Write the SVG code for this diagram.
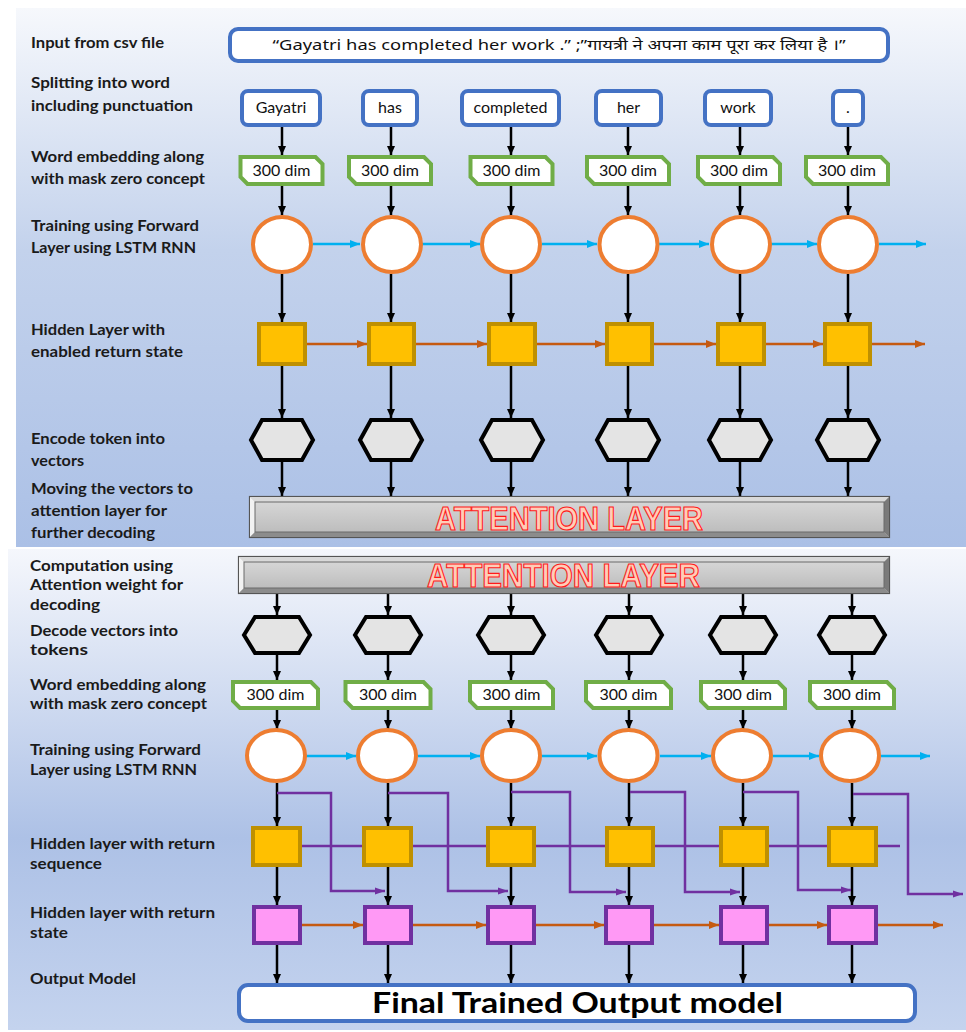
<svg xmlns="http://www.w3.org/2000/svg" width="966" height="1032" viewBox="0 0 966 1032">
  <defs>
    <linearGradient id="bg1" x1="0" y1="0" x2="0" y2="1">
      <stop offset="0" stop-color="#f6f8fc"/>
      <stop offset="0.45" stop-color="#c3d2ec"/>
      <stop offset="1" stop-color="#abc0e6"/>
    </linearGradient>
    <linearGradient id="bg2" x1="0" y1="0" x2="0" y2="1">
      <stop offset="0" stop-color="#f5f7fc"/>
      <stop offset="0.6" stop-color="#adc1e6"/>
      <stop offset="1" stop-color="#c4d3ee"/>
    </linearGradient>
    <linearGradient id="bevelFace" x1="0" y1="0" x2="0" y2="1">
      <stop offset="0" stop-color="#d6d6d6"/>
      <stop offset="1" stop-color="#bdbdbd"/>
    </linearGradient>
    <marker id="ahBlack" markerWidth="10" markerHeight="10" refX="9" refY="5" orient="auto" markerUnits="userSpaceOnUse">
      <path d="M0,1 L9,5 L0,9 z" fill="#000"/>
    </marker>
    <marker id="ahBlue" markerWidth="12" markerHeight="10" refX="10" refY="5" orient="auto" markerUnits="userSpaceOnUse">
      <path d="M0,1 L10,5 L0,9 z" fill="#00b0f0"/>
    </marker>
    <marker id="ahOrange" markerWidth="12" markerHeight="10" refX="10" refY="5" orient="auto" markerUnits="userSpaceOnUse">
      <path d="M0,1 L10,5 L0,9 z" fill="#c55a11"/>
    </marker>
    <marker id="ahPurple" markerWidth="12" markerHeight="10" refX="10" refY="5" orient="auto" markerUnits="userSpaceOnUse">
      <path d="M0,1.5 L10,5 L0,8.5 z" fill="#7030a0"/>
    </marker>
  </defs>
  <style>
    .lbl { font-family: Lato, "Liberation Sans", sans-serif; font-weight: bold; font-size: 15px; fill: #1a1a1a; }
    .word { font-family: Lato, "Liberation Sans", sans-serif; font-size: 16px; fill: #111; text-anchor: middle; }
    .wbox { fill: #fff; stroke: #4472c4; stroke-width: 4; }
    .emb { fill: #fff; stroke: #70ad47; stroke-width: 4; }
    .lstm { fill: #fff; stroke: #ed7d31; stroke-width: 4; }
    .gold { fill: #ffc000; stroke: #bf9000; stroke-width: 4; }
    .pink { fill: #ff99f5; stroke: #7030a0; stroke-width: 4; }
    .hex { fill: #e4e4e4; stroke: #000; stroke-width: 4; stroke-linejoin: miter; }
    .down { stroke: #000; stroke-width: 2.5; fill: none; marker-end: url(#ahBlack); }
    .fwd { stroke: #00b0f0; stroke-width: 2.5; fill: none; marker-end: url(#ahBlue); }
    .state { stroke: #c55a11; stroke-width: 2.5; fill: none; marker-end: url(#ahOrange); }
    .seq { stroke: #7030a0; stroke-width: 2.5; fill: none; }
    .seqa { stroke: #7030a0; stroke-width: 2.5; fill: none; marker-end: url(#ahPurple); }
    .att { font-family: "Liberation Sans", Arial, sans-serif; font-weight: bold; font-size: 34px; fill: #ffcdb8; stroke: #ff1a1a; stroke-width: 1.2; }
  </style>

  <!-- background panels -->
  <rect x="0" y="0" width="966" height="1032" fill="#fff"/>
  <rect x="16" y="8" width="950" height="539" fill="url(#bg1)"/>
  <rect x="8" y="549" width="958" height="481" fill="url(#bg2)"/>

  <!-- row labels -->
  <g id="labels">
    <text class="lbl" x="31" y="48" textLength="133" lengthAdjust="spacingAndGlyphs">Input from csv file</text>
    <text class="lbl" x="31" y="88" textLength="139" lengthAdjust="spacingAndGlyphs">Splitting into word</text>
    <text class="lbl" x="31" y="111" textLength="162" lengthAdjust="spacingAndGlyphs">including punctuation</text>
    <text class="lbl" x="31" y="162" textLength="173" lengthAdjust="spacingAndGlyphs">Word embedding along</text>
    <text class="lbl" x="31" y="184" textLength="174" lengthAdjust="spacingAndGlyphs">with mask zero concept</text>
    <text class="lbl" x="31" y="231" textLength="168" lengthAdjust="spacingAndGlyphs">Training using Forward</text>
    <text class="lbl" x="31" y="253" textLength="165" lengthAdjust="spacingAndGlyphs">Layer using LSTM RNN</text>
    <text class="lbl" x="31" y="335" textLength="134" lengthAdjust="spacingAndGlyphs">Hidden Layer with</text>
    <text class="lbl" x="31" y="357" textLength="152" lengthAdjust="spacingAndGlyphs">enabled return state</text>
    <text class="lbl" x="31" y="444" textLength="134" lengthAdjust="spacingAndGlyphs">Encode token into</text>
    <text class="lbl" x="31" y="466" textLength="53" lengthAdjust="spacingAndGlyphs">vectors</text>
    <text class="lbl" x="31" y="494" textLength="162" lengthAdjust="spacingAndGlyphs">Moving the vectors to</text>
    <text class="lbl" x="31" y="516" textLength="136" lengthAdjust="spacingAndGlyphs">attention layer for</text>
    <text class="lbl" x="31" y="538" textLength="124" lengthAdjust="spacingAndGlyphs">further decoding</text>

    <text class="lbl" x="30" y="571" textLength="143" lengthAdjust="spacingAndGlyphs">Computation using</text>
    <text class="lbl" x="30" y="590" textLength="153" lengthAdjust="spacingAndGlyphs">Attention weight for</text>
    <text class="lbl" x="30" y="610" textLength="70" lengthAdjust="spacingAndGlyphs">decoding</text>
    <text class="lbl" x="30" y="636" textLength="148" lengthAdjust="spacingAndGlyphs">Decode vectors into</text>
    <text class="lbl" x="30" y="655" textLength="58" lengthAdjust="spacingAndGlyphs">tokens</text>
    <text class="lbl" x="30" y="690" textLength="176" lengthAdjust="spacingAndGlyphs">Word embedding along</text>
    <text class="lbl" x="30" y="709" textLength="177" lengthAdjust="spacingAndGlyphs">with mask zero concept</text>
    <text class="lbl" x="30" y="755" textLength="171" lengthAdjust="spacingAndGlyphs">Training using Forward</text>
    <text class="lbl" x="30" y="775" textLength="167" lengthAdjust="spacingAndGlyphs">Layer using LSTM RNN</text>
    <text class="lbl" x="30" y="849" textLength="185" lengthAdjust="spacingAndGlyphs">Hidden layer with return</text>
    <text class="lbl" x="30" y="869" textLength="72" lengthAdjust="spacingAndGlyphs">sequence</text>
    <text class="lbl" x="30" y="918" textLength="185" lengthAdjust="spacingAndGlyphs">Hidden layer with return</text>
    <text class="lbl" x="30" y="938" textLength="38" lengthAdjust="spacingAndGlyphs">state</text>
    <text class="lbl" x="30" y="984" textLength="106" lengthAdjust="spacingAndGlyphs">Output Model</text>
  </g>

  <!-- connectors -->
  <g id="connectors">
    <!-- encoder: word to embedding -->
    <line class="down" x1="282" y1="127" x2="282" y2="155"/>
    <line class="down" x1="391" y1="127" x2="391" y2="155"/>
    <line class="down" x1="511" y1="127" x2="511" y2="155"/>
    <line class="down" x1="628" y1="127" x2="628" y2="155"/>
    <line class="down" x1="740" y1="127" x2="740" y2="155"/>
    <line class="down" x1="848" y1="127" x2="848" y2="155"/>
    <!-- encoder: embedding to LSTM -->
    <line class="down" x1="282" y1="186" x2="282" y2="215"/>
    <line class="down" x1="391" y1="186" x2="391" y2="215"/>
    <line class="down" x1="511" y1="186" x2="511" y2="215"/>
    <line class="down" x1="628" y1="186" x2="628" y2="215"/>
    <line class="down" x1="740" y1="186" x2="740" y2="215"/>
    <line class="down" x1="848" y1="186" x2="848" y2="215"/>
    <!-- encoder: LSTM to hidden -->
    <line class="down" x1="282" y1="274" x2="282" y2="322"/>
    <line class="down" x1="391" y1="274" x2="391" y2="322"/>
    <line class="down" x1="511" y1="274" x2="511" y2="322"/>
    <line class="down" x1="628" y1="274" x2="628" y2="322"/>
    <line class="down" x1="740" y1="274" x2="740" y2="322"/>
    <line class="down" x1="848" y1="274" x2="848" y2="322"/>
    <!-- encoder: hidden to vector -->
    <line class="down" x1="282" y1="366" x2="282" y2="418"/>
    <line class="down" x1="391" y1="366" x2="391" y2="418"/>
    <line class="down" x1="511" y1="366" x2="511" y2="418"/>
    <line class="down" x1="628" y1="366" x2="628" y2="418"/>
    <line class="down" x1="740" y1="366" x2="740" y2="418"/>
    <line class="down" x1="848" y1="366" x2="848" y2="418"/>
    <!-- encoder: vector to attention -->
    <line class="down" x1="282" y1="462" x2="282" y2="496"/>
    <line class="down" x1="391" y1="462" x2="391" y2="496"/>
    <line class="down" x1="511" y1="462" x2="511" y2="496"/>
    <line class="down" x1="628" y1="462" x2="628" y2="496"/>
    <line class="down" x1="740" y1="462" x2="740" y2="496"/>
    <line class="down" x1="848" y1="462" x2="848" y2="496"/>
    <!-- encoder: forward LSTM links -->
    <line class="fwd" x1="313" y1="244" x2="360" y2="244"/>
    <line class="fwd" x1="422" y1="244" x2="480" y2="244"/>
    <line class="fwd" x1="542" y1="244" x2="597" y2="244"/>
    <line class="fwd" x1="659" y1="244" x2="709" y2="244"/>
    <line class="fwd" x1="771" y1="244" x2="817" y2="244"/>
    <line class="fwd" x1="879" y1="244" x2="926" y2="244"/>
    <!-- encoder: return state links -->
    <line class="state" x1="307" y1="344" x2="367" y2="344"/>
    <line class="state" x1="416" y1="344" x2="487" y2="344"/>
    <line class="state" x1="537" y1="344" x2="605" y2="344"/>
    <line class="state" x1="654" y1="344" x2="716" y2="344"/>
    <line class="state" x1="766" y1="344" x2="823" y2="344"/>
    <line class="state" x1="872" y1="344" x2="925" y2="344"/>

    <!-- decoder: attention to tokens -->
    <line class="down" x1="277" y1="594" x2="277" y2="615"/>
    <line class="down" x1="388" y1="594" x2="388" y2="615"/>
    <line class="down" x1="511" y1="594" x2="511" y2="615"/>
    <line class="down" x1="629" y1="594" x2="629" y2="615"/>
    <line class="down" x1="743" y1="594" x2="743" y2="615"/>
    <line class="down" x1="852" y1="594" x2="852" y2="615"/>
    <!-- decoder: tokens to embedding -->
    <line class="down" x1="277" y1="655" x2="277" y2="680"/>
    <line class="down" x1="388" y1="655" x2="388" y2="680"/>
    <line class="down" x1="511" y1="655" x2="511" y2="680"/>
    <line class="down" x1="629" y1="655" x2="629" y2="680"/>
    <line class="down" x1="743" y1="655" x2="743" y2="680"/>
    <line class="down" x1="852" y1="655" x2="852" y2="680"/>
    <!-- decoder: embedding to LSTM -->
    <line class="down" x1="277" y1="710" x2="277" y2="729"/>
    <line class="down" x1="388" y1="710" x2="388" y2="729"/>
    <line class="down" x1="511" y1="710" x2="511" y2="729"/>
    <line class="down" x1="629" y1="710" x2="629" y2="729"/>
    <line class="down" x1="743" y1="710" x2="743" y2="729"/>
    <line class="down" x1="852" y1="710" x2="852" y2="729"/>
    <!-- decoder: LSTM to return-sequence layer -->
    <line class="down" x1="277" y1="783" x2="277" y2="826"/>
    <line class="down" x1="388" y1="783" x2="388" y2="826"/>
    <line class="down" x1="511" y1="783" x2="511" y2="826"/>
    <line class="down" x1="629" y1="783" x2="629" y2="826"/>
    <line class="down" x1="743" y1="783" x2="743" y2="826"/>
    <line class="down" x1="852" y1="783" x2="852" y2="826"/>
    <!-- decoder: return-sequence to return-state layer -->
    <line class="down" x1="277" y1="867" x2="277" y2="905"/>
    <line class="down" x1="388" y1="867" x2="388" y2="905"/>
    <line class="down" x1="511" y1="867" x2="511" y2="905"/>
    <line class="down" x1="629" y1="867" x2="629" y2="905"/>
    <line class="down" x1="743" y1="867" x2="743" y2="905"/>
    <line class="down" x1="852" y1="867" x2="852" y2="905"/>
    <!-- decoder: return-state to output -->
    <line class="down" x1="277" y1="945" x2="277" y2="983"/>
    <line class="down" x1="388" y1="945" x2="388" y2="983"/>
    <line class="down" x1="511" y1="945" x2="511" y2="983"/>
    <line class="down" x1="629" y1="945" x2="629" y2="983"/>
    <line class="down" x1="743" y1="945" x2="743" y2="983"/>
    <line class="down" x1="852" y1="945" x2="852" y2="983"/>
    <!-- decoder: forward LSTM links -->
    <line class="fwd" x1="306" y1="756" x2="356" y2="756"/>
    <line class="fwd" x1="418" y1="756" x2="480" y2="756"/>
    <line class="fwd" x1="542" y1="756" x2="597" y2="756"/>
    <line class="fwd" x1="660" y1="756" x2="711" y2="756"/>
    <line class="fwd" x1="773" y1="756" x2="819" y2="756"/>
    <line class="fwd" x1="881" y1="756" x2="930" y2="756"/>
    <!-- decoder: return sequence -->
    <line class="seq" x1="302" y1="846" x2="900" y2="846"/>
    <path class="seqa" d="M277,793 H331 V891 H385"/>
    <path class="seqa" d="M388,793 H448 V891 H508"/>
    <path class="seqa" d="M511,792 H570 V892 H626"/>
    <path class="seqa" d="M630,792 H685 V892 H740"/>
    <path class="seqa" d="M743,792 H798 V890 H851"/>
    <path class="seqa" d="M853,794 H908 V894 H963"/>
    <!-- decoder: return state links -->
    <line class="state" x1="302" y1="925" x2="363" y2="925"/>
    <line class="state" x1="413" y1="925" x2="486" y2="925"/>
    <line class="state" x1="536" y1="925" x2="604" y2="925"/>
    <line class="state" x1="654" y1="925" x2="719" y2="925"/>
    <line class="state" x1="769" y1="925" x2="827" y2="925"/>
    <line class="state" x1="878" y1="925" x2="943" y2="925"/>
  </g>

  <!-- input sentence -->
  <g id="input">
    <rect class="wbox" x="230" y="29" width="658" height="32" rx="8"/>
    <text x="559" y="50" text-anchor="middle" font-family="'Noto Sans', 'Noto Sans Devanagari', 'Lohit Devanagari', sans-serif" font-size="15" fill="#111" textLength="573" lengthAdjust="spacingAndGlyphs">“Gayatri has completed her work .” ;”गायत्री ने अपना काम पूरा कर लिया है ।”</text>
  </g>

  <!-- split words -->
  <g id="word-gayatri"><rect class="wbox" x="242" y="91" width="78" height="34" rx="6"/><text class="word" x="281" y="113">Gayatri</text></g>
  <g id="word-has"><rect class="wbox" x="363" y="91" width="54" height="34" rx="6"/><text class="word" x="390" y="113">has</text></g>
  <g id="word-completed"><rect class="wbox" x="462" y="91" width="97" height="34" rx="6"/><text class="word" x="510.5" y="113">completed</text></g>
  <g id="word-her"><rect class="wbox" x="596" y="91" width="65" height="34" rx="6"/><text class="word" x="628.5" y="113">her</text></g>
  <g id="word-work"><rect class="wbox" x="705" y="91" width="66" height="34" rx="6"/><text class="word" x="738" y="113">work</text></g>
  <g id="word-dot"><rect class="wbox" x="833" y="91" width="30" height="34" rx="6"/><text class="word" x="848" y="113">.</text></g>

  <!-- encoder embeddings -->
  <g id="enc-emb-1"><path class="emb" d="M240.5,157 H315.5 L322.5,164 V184 H247.5 L240.5,177 Z"/><text class="word" x="281.5" y="176">300 dim</text></g>
  <g id="enc-emb-2"><path class="emb" d="M349,157 H424 L431,164 V184 H356 L349,177 Z"/><text class="word" x="390" y="176">300 dim</text></g>
  <g id="enc-emb-3"><path class="emb" d="M470.5,157 H545.5 L552.5,164 V184 H477.5 L470.5,177 Z"/><text class="word" x="511.5" y="176">300 dim</text></g>
  <g id="enc-emb-4"><path class="emb" d="M587,157 H662 L669,164 V184 H594 L587,177 Z"/><text class="word" x="628" y="176">300 dim</text></g>
  <g id="enc-emb-5"><path class="emb" d="M698,157 H773 L780,164 V184 H705 L698,177 Z"/><text class="word" x="739" y="176">300 dim</text></g>
  <g id="enc-emb-6"><path class="emb" d="M806,157 H881 L888,164 V184 H813 L806,177 Z"/><text class="word" x="847" y="176">300 dim</text></g>

  <!-- encoder LSTM cells -->
  <g id="enc-lstm-1"><ellipse class="lstm" cx="282" cy="244.5" rx="29" ry="27.5"/></g>
  <g id="enc-lstm-2"><ellipse class="lstm" cx="392" cy="244.5" rx="29" ry="27.5"/></g>
  <g id="enc-lstm-3"><ellipse class="lstm" cx="511" cy="244.5" rx="29" ry="27.5"/></g>
  <g id="enc-lstm-4"><ellipse class="lstm" cx="628.5" cy="244.5" rx="29" ry="27.5"/></g>
  <g id="enc-lstm-5"><ellipse class="lstm" cx="741" cy="244.5" rx="29" ry="27.5"/></g>
  <g id="enc-lstm-6"><ellipse class="lstm" cx="848" cy="244.5" rx="29" ry="27.5"/></g>

  <!-- encoder hidden state -->
  <g id="enc-hidden-1"><rect class="gold" x="259" y="324" width="46" height="40"/></g>
  <g id="enc-hidden-2"><rect class="gold" x="369" y="324" width="45" height="40"/></g>
  <g id="enc-hidden-3"><rect class="gold" x="489" y="324" width="46" height="40"/></g>
  <g id="enc-hidden-4"><rect class="gold" x="607" y="324" width="45" height="40"/></g>
  <g id="enc-hidden-5"><rect class="gold" x="718" y="324" width="46" height="40"/></g>
  <g id="enc-hidden-6"><rect class="gold" x="825" y="324" width="45" height="40"/></g>

  <!-- encoder vectors -->
  <g id="enc-vec-1"><polygon class="hex" points="251,440 262,420 302,420 313,440 302,460 262,460"/></g>
  <g id="enc-vec-2"><polygon class="hex" points="360,440 371,420 411,420 422,440 411,460 371,460"/></g>
  <g id="enc-vec-3"><polygon class="hex" points="481,440 492,420 532,420 543,440 532,460 492,460"/></g>
  <g id="enc-vec-4"><polygon class="hex" points="597,440 608,420 648,420 659,440 648,460 608,460"/></g>
  <g id="enc-vec-5"><polygon class="hex" points="709,440 720,420 760,420 771,440 760,460 720,460"/></g>
  <g id="enc-vec-6"><polygon class="hex" points="817,440 828,420 868,420 879,440 868,460 828,460"/></g>

  <!-- attention layer (encoder side) -->
  <g id="attention-enc">
    <rect x="249.5" y="496.5" width="640" height="41" fill="#c4c4c4" stroke="#555" stroke-width="1.2"/>
    <polygon points="250,497 889,497 884,502 255,502" fill="#d9d9d9"/>
    <polygon points="250,497 255,502 255,532 250,537" fill="#f2f2f2"/>
    <polygon points="889,497 889,537 884,532 884,502" fill="#7a7a7a"/>
    <polygon points="250,537 255,532 884,532 889,537" fill="#8c8c8c"/>
    <rect x="255" y="502" width="629" height="30" fill="url(#bevelFace)" stroke="#6a6a6a" stroke-width="1"/>
    <text class="att" x="435" y="530" textLength="268" lengthAdjust="spacingAndGlyphs">ATTENTION LAYER</text>
  </g>

  <!-- attention layer (decoder side) -->
  <g id="attention-dec">
    <rect x="238.5" y="556.5" width="651" height="37" fill="#c4c4c4" stroke="#555" stroke-width="1.2"/>
    <polygon points="239,557 889,557 884,562 244,562" fill="#d9d9d9"/>
    <polygon points="239,557 244,562 244,588 239,593" fill="#f2f2f2"/>
    <polygon points="889,557 889,593 884,588 884,562" fill="#7a7a7a"/>
    <polygon points="239,593 244,588 884,588 889,593" fill="#8c8c8c"/>
    <rect x="244" y="562" width="640" height="26" fill="url(#bevelFace)" stroke="#6a6a6a" stroke-width="1"/>
    <text class="att" x="427" y="587" textLength="273" lengthAdjust="spacingAndGlyphs">ATTENTION LAYER</text>
  </g>

  <!-- decoder tokens -->
  <g id="dec-tok-1"><polygon class="hex" points="244,635 255,617 299,617 310,635 299,653 255,653"/></g>
  <g id="dec-tok-2"><polygon class="hex" points="355,635 366,617 410,617 421,635 410,653 366,653"/></g>
  <g id="dec-tok-3"><polygon class="hex" points="478,635 489,617 533,617 544,635 533,653 489,653"/></g>
  <g id="dec-tok-4"><polygon class="hex" points="596,635 607,617 651,617 662,635 651,653 607,653"/></g>
  <g id="dec-tok-5"><polygon class="hex" points="710,635 721,617 765,617 776,635 765,653 721,653"/></g>
  <g id="dec-tok-6"><polygon class="hex" points="819,635 830,617 874,617 885,635 874,653 830,653"/></g>

  <!-- decoder embeddings -->
  <g id="dec-emb-1"><path class="emb" d="M233,682 H311 L318,689 V708 H240 L233,701 Z"/><text class="word" x="275.5" y="700">300 dim</text></g>
  <g id="dec-emb-2"><path class="emb" d="M345.5,682 H423.5 L430.5,689 V708 H352.5 L345.5,701 Z"/><text class="word" x="388" y="700">300 dim</text></g>
  <g id="dec-emb-3"><path class="emb" d="M470,682 H546 L553,689 V708 H477 L470,701 Z"/><text class="word" x="511.5" y="700">300 dim</text></g>
  <g id="dec-emb-4"><path class="emb" d="M586,682 H664 L671,689 V708 H593 L586,701 Z"/><text class="word" x="628.5" y="700">300 dim</text></g>
  <g id="dec-emb-5"><path class="emb" d="M701,682 H778 L785,689 V708 H708 L701,701 Z"/><text class="word" x="743" y="700">300 dim</text></g>
  <g id="dec-emb-6"><path class="emb" d="M810,682 H887 L894,689 V708 H817 L810,701 Z"/><text class="word" x="852" y="700">300 dim</text></g>

  <!-- decoder LSTM cells -->
  <g id="dec-lstm-1"><ellipse class="lstm" cx="276" cy="755.5" rx="29" ry="25.5"/></g>
  <g id="dec-lstm-2"><ellipse class="lstm" cx="387" cy="755.5" rx="29" ry="25.5"/></g>
  <g id="dec-lstm-3"><ellipse class="lstm" cx="511" cy="755.5" rx="29" ry="25.5"/></g>
  <g id="dec-lstm-4"><ellipse class="lstm" cx="628.5" cy="755.5" rx="29" ry="25.5"/></g>
  <g id="dec-lstm-5"><ellipse class="lstm" cx="742" cy="755.5" rx="29" ry="25.5"/></g>
  <g id="dec-lstm-6"><ellipse class="lstm" cx="850" cy="755.5" rx="29" ry="25.5"/></g>

  <!-- decoder hidden layer, return sequence -->
  <g id="dec-seq-1"><rect class="gold" x="253" y="828" width="47" height="37"/></g>
  <g id="dec-seq-2"><rect class="gold" x="364" y="828" width="47" height="37"/></g>
  <g id="dec-seq-3"><rect class="gold" x="488" y="828" width="46" height="37"/></g>
  <g id="dec-seq-4"><rect class="gold" x="607" y="828" width="46" height="37"/></g>
  <g id="dec-seq-5"><rect class="gold" x="721" y="828" width="46" height="37"/></g>
  <g id="dec-seq-6"><rect class="gold" x="829" y="828" width="47" height="37"/></g>

  <!-- decoder hidden layer, return state -->
  <g id="dec-state-1"><rect class="pink" x="254" y="907" width="46" height="36"/></g>
  <g id="dec-state-2"><rect class="pink" x="365" y="907" width="46" height="36"/></g>
  <g id="dec-state-3"><rect class="pink" x="488" y="907" width="46" height="36"/></g>
  <g id="dec-state-4"><rect class="pink" x="606" y="907" width="46" height="36"/></g>
  <g id="dec-state-5"><rect class="pink" x="721" y="907" width="46" height="36"/></g>
  <g id="dec-state-6"><rect class="pink" x="829" y="907" width="47" height="36"/></g>

  <!-- output -->
  <g id="output">
    <rect class="wbox" x="239" y="985" width="676" height="36" rx="9"/>
    <text x="372" y="1013" font-family="Lato, 'Liberation Sans', sans-serif" font-weight="bold" font-size="28" fill="#000" textLength="411" lengthAdjust="spacingAndGlyphs">Final Trained Output model</text>
  </g>
</svg>
